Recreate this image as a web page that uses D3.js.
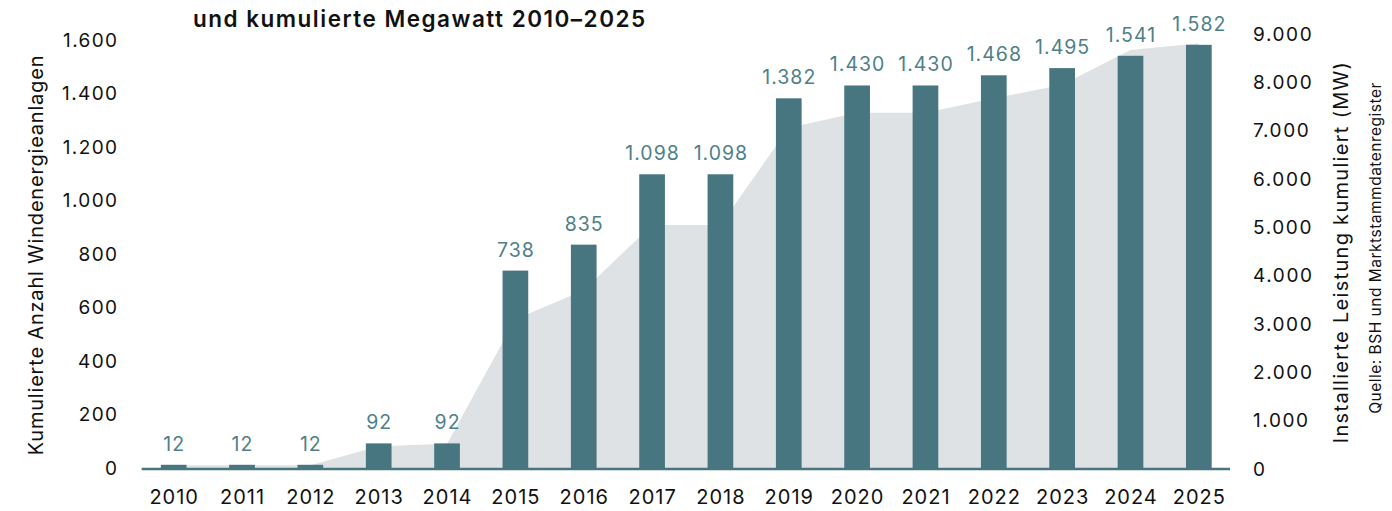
<!DOCTYPE html>
<html>
<head>
<meta charset="utf-8">
<script src="https://cdn.jsdelivr.net/npm/d3@7"></script>
<style>
  html, body { margin: 0; padding: 0; background: #ffffff; }
  svg { display: block; }
  text { font-family: Inter, Lato, sans-serif; }
</style>
</head>
<body>
<svg id="chart" width="1392" height="511"></svg>
<script>
// ---- data ----
const years = ["2010","2011","2012","2013","2014","2015","2016","2017","2018","2019","2020","2021","2022","2023","2024","2025"];
const turbines = [12, 12, 12, 92, 92, 738, 835, 1098, 1098, 1382, 1430, 1430, 1468, 1495, 1541, 1582];
const megawatt = [80, 80, 80, 470, 520, 3100, 3700, 5050, 5050, 7060, 7370, 7370, 7670, 7950, 8670, 8810];
const leftTicks = [0, 200, 400, 600, 800, 1000, 1200, 1400, 1600];
const rightTicks = [0, 1000, 2000, 3000, 4000, 5000, 6000, 7000, 8000, 9000];
const titleText = "und kumulierte Megawatt 2010–2025";
const leftTitle = "Kumulierte Anzahl Windenergieanlagen";
const rightTitle = "Installierte Leistung kumuliert (MW)";
const sourceText = "Quelle: BSH und Marktstammdatenregister";

const fmt = d3.formatLocale({decimal: ",", thousands: ".", grouping: [3], currency: ["", "€"]}).format(",d");

const svg = d3.select("#chart");
const barColor = "#477681";
const labelColor = "#4e7f89";
const areaColor = "#dfe2e5";
const textColor = "#111111";
const FONT = "Inter, Lato, sans-serif";

const x = d3.scaleBand().domain(years).range([139.5, 1233]).paddingInner(0.624).paddingOuter(0.312);
const yL = d3.scaleLinear().domain([0, 1600]).range([468, 40]);
const yR = d3.scaleLinear().domain([0, 9000]).range([469, 34]);

// area (cumulative MW)
const area = d3.area()
  .x((d, i) => x(years[i]) + x.bandwidth() / 2)
  .y0(yR(0))
  .y1(d => yR(d));
svg.append("path").datum(megawatt).attr("d", area).attr("fill", areaColor);

// bars
svg.append("g").selectAll("rect").data(turbines).join("rect")
  .attr("x", (d, i) => x(years[i]))
  .attr("width", x.bandwidth())
  .attr("y", d => yL(d))
  .attr("height", d => yL(0) - yL(d))
  .attr("fill", barColor);

// baseline
svg.append("line")
  .attr("x1", 141.7).attr("x2", 1230)
  .attr("y1", yL(0) + 1).attr("y2", yL(0) + 1)
  .attr("stroke", barColor).attr("stroke-width", 2.5);

// value labels
svg.append("g").selectAll("text").data(turbines).join("text")
  .attr("x", (d, i) => x(years[i]) + x.bandwidth() / 2 + 0.5)
  .attr("y", d => yL(d) - 14)
  .attr("text-anchor", "middle")
  .attr("fill", labelColor)
  .attr("font-size", 19.5)
  .attr("letter-spacing", 1)
  .text(d => fmt(d));

// left axis
const gL = svg.append("g").attr("transform", "translate(118.5,0)")
  .call(d3.axisLeft(yL).tickValues(leftTicks).tickFormat(fmt).tickSize(0).tickPadding(0));
gL.select(".domain").remove();
gL.selectAll("text").attr("font-size", 19).attr("letter-spacing", 1.4).attr("fill", textColor).attr("font-family", FONT);

// right axis
const gR = svg.append("g").attr("transform", "translate(1253,0)")
  .call(d3.axisRight(yR).tickValues(rightTicks).tickFormat(fmt).tickSize(0).tickPadding(0));
gR.select(".domain").remove();
gR.selectAll("text").attr("font-size", 19).attr("letter-spacing", 1.6).attr("fill", textColor).attr("font-family", FONT);

// x axis
const gX = svg.append("g").attr("transform", "translate(0,490)")
  .call(d3.axisBottom(x).tickSize(0).tickPadding(0));
gX.select(".domain").remove();
gX.selectAll("text").attr("font-size", 20).attr("letter-spacing", 1).attr("fill", textColor).attr("font-family", FONT).attr("dy", "0.71em").attr("dx", "0.5");

// title
svg.append("text").attr("x", 193).attr("y", 27)
  .attr("font-size", 22.5).attr("font-weight", 600).attr("letter-spacing", 1.5).attr("fill", textColor)
  .text(titleText);

// axis titles
svg.append("text").attr("transform", "translate(43,255) rotate(-90)")
  .attr("text-anchor", "middle").attr("font-size", 20).attr("letter-spacing", 0.8).attr("fill", textColor)
  .text(leftTitle);
svg.append("text").attr("transform", "translate(1348,252) rotate(-90)")
  .attr("text-anchor", "middle").attr("font-size", 20).attr("letter-spacing", 1.3).attr("fill", textColor)
  .text(rightTitle);
svg.append("text").attr("transform", "translate(1381,248) rotate(-90)")
  .attr("text-anchor", "middle").attr("font-size", 15.5).attr("letter-spacing", 0.5).attr("fill", textColor)
  .text(sourceText);
</script>
</body>
</html>
